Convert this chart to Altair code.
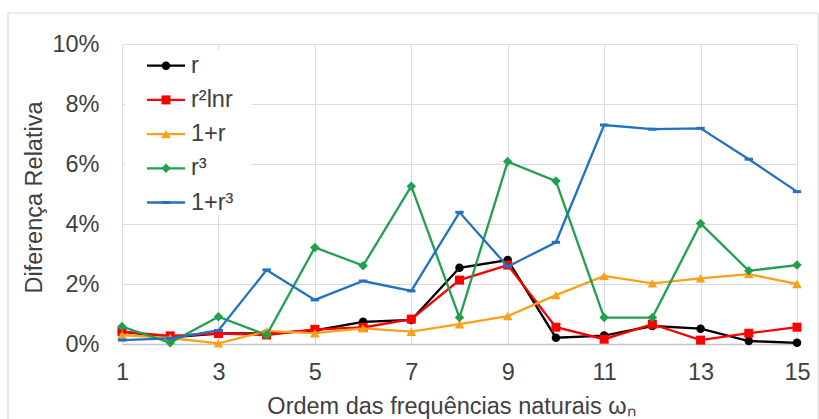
import altair as alt
import pandas as pd

# Frequency order (x) and relative difference in % for each radial basis function
orders = list(range(1, 16))
series_names = ["r", "r²lnr", "1+r", "r³", "1+r³"]
diff_r = [0.41, 0.22, 0.35, 0.35, 0.45, 0.74, 0.80, 2.54, 2.80, 0.21, 0.28, 0.60, 0.51, 0.10, 0.04]
diff_r2lnr = [0.41, 0.27, 0.35, 0.30, 0.49, 0.55, 0.83, 2.13, 2.63, 0.56, 0.16, 0.66, 0.13, 0.36, 0.56]
diff_1r = [0.30, 0.20, 0.02, 0.43, 0.36, 0.52, 0.41, 0.66, 0.93, 1.63, 2.27, 2.02, 2.19, 2.33, 2.00]
diff_r3 = [0.58, 0.04, 0.91, 0.30, 3.22, 2.61, 5.26, 0.88, 6.08, 5.43, 0.88, 0.88, 4.02, 2.44, 2.63]
diff_1r3 = [0.13, 0.19, 0.45, 2.47, 1.47, 2.10, 1.77, 4.39, 2.58, 3.39, 7.30, 7.16, 7.19, 6.16, 5.08]
y_ticks = [0, 2, 4, 6, 8, 10]
x_ticks = [1, 3, 5, 7, 9, 11, 13, 15]

colors = ["#000000", "#FF0000", "#F9A11B", "#21A04F", "#2272C3"]
shapes = ["circle", "square", "triangle-up", "diamond", "stroke"]
sizes = [72, 81, 95, 90, 70]

all_values = [diff_r, diff_r2lnr, diff_1r, diff_r3, diff_1r3]
rows = []
for name, vals in zip(series_names, all_values):
    for o, v in zip(orders, vals):
        rows.append({"ordem": o, "valor": v, "serie": name})
df = pd.DataFrame(rows)

FONT = "Liberation Sans"
TEXT_COLOR = "#404040"
W, H = 675, 300

x_enc = alt.X(
    "ordem:Q",
    scale=alt.Scale(domain=[1, 15], nice=False, zero=False),
    axis=alt.Axis(
        values=x_ticks, title="Ordem das frequências naturais ωₙ",
        titleFontSize=23.5, titleFont=FONT, titleFontWeight="normal", titleColor=TEXT_COLOR,
        titleX=329, titleY=62, titleBaseline="middle",
        labelFontSize=23.5, labelFont=FONT, labelColor=TEXT_COLOR, labelPadding=16,
        ticks=False, domain=True, domainColor="#c4c4c4", domainWidth=1.5,
        grid=True, gridColor="#dcdcdc", labelFlush=False,
    ),
)
y_enc = alt.Y(
    "valor:Q",
    scale=alt.Scale(domain=[0, 10], nice=False),
    axis=alt.Axis(
        values=y_ticks, labelExpr="datum.value + '%'", title="Diferença Relativa",
        titleFontSize=23.5, titleFont=FONT, titleFontWeight="normal", titleColor=TEXT_COLOR,
        titleX=-88, titleY=153, titleAlign="center", titleBaseline="middle", titleAngle=-90,
        labelFontSize=23.5, labelFont=FONT, labelColor=TEXT_COLOR, labelPadding=23,
        ticks=False, domain=False, grid=True, gridColor="#dcdcdc",
    ),
)

base = alt.Chart(df)

# Outer frame around the whole figure
frame = base.mark_rect(fill=None, stroke="#d9d9d9", strokeWidth=1.2).encode(
    x=alt.value(-114), x2=alt.value(696), y=alt.value(-31), y2=alt.value(420)
).transform_filter("datum.ordem == 1 && datum.serie == 'r'")

layers = [frame]

# Series lines and markers
for name, col, shp, sz in zip(series_names, colors, shapes, sizes):
    sub = base.transform_filter(alt.datum.serie == name)
    layers.append(sub.mark_line(color=col, strokeWidth=2.3).encode(x=x_enc, y=y_enc))
    if shp == "stroke":
        pts = sub.mark_point(shape=shp, filled=False, color=col, size=sz, strokeWidth=3, opacity=1)
    else:
        pts = sub.mark_point(shape=shp, filled=True, color=col, size=sz, opacity=1)
    layers.append(pts.encode(x=x_enc, y=y_enc))

# Legend box inside the plot, top-left
first = base.transform_filter("datum.ordem == 1 && datum.serie == 'r'")
layers.append(first.mark_rect(fill="white", stroke=None).encode(
    x=alt.value(3), x2=alt.value(130), y=alt.value(6), y2=alt.value(171)))
for i, (name, col, shp, sz) in enumerate(zip(series_names, colors, shapes, sizes)):
    ly = 21.7 + i * 34.2
    one = base.transform_filter(f"datum.ordem == 1 && datum.serie == '{name}'")
    layers.append(one.mark_rule(color=col, strokeWidth=2.3).encode(
        x=alt.value(25), x2=alt.value(63), y=alt.value(ly)))
    if shp == "stroke":
        mk = one.mark_point(shape=shp, filled=False, color=col, size=sz, strokeWidth=3, opacity=1)
    else:
        mk = one.mark_point(shape=shp, filled=True, color=col, size=sz, opacity=1)
    layers.append(mk.encode(x=alt.value(44), y=alt.value(ly)))
    layers.append(one.mark_text(align="left", baseline="middle", font=FONT, fontSize=23.5,
                                color=TEXT_COLOR).encode(
        x=alt.value(69), y=alt.value(ly), text="serie:N"))

chart = alt.layer(*layers).properties(
    width=W, height=H,
    autosize=alt.AutoSizeParams(type="none"),
    padding={"left": 122, "top": 44, "right": 22, "bottom": 75},
    background="white",
).configure_view(stroke=None)

chart.save("out.html", embed_options={"renderer": "svg", "actions": False})
